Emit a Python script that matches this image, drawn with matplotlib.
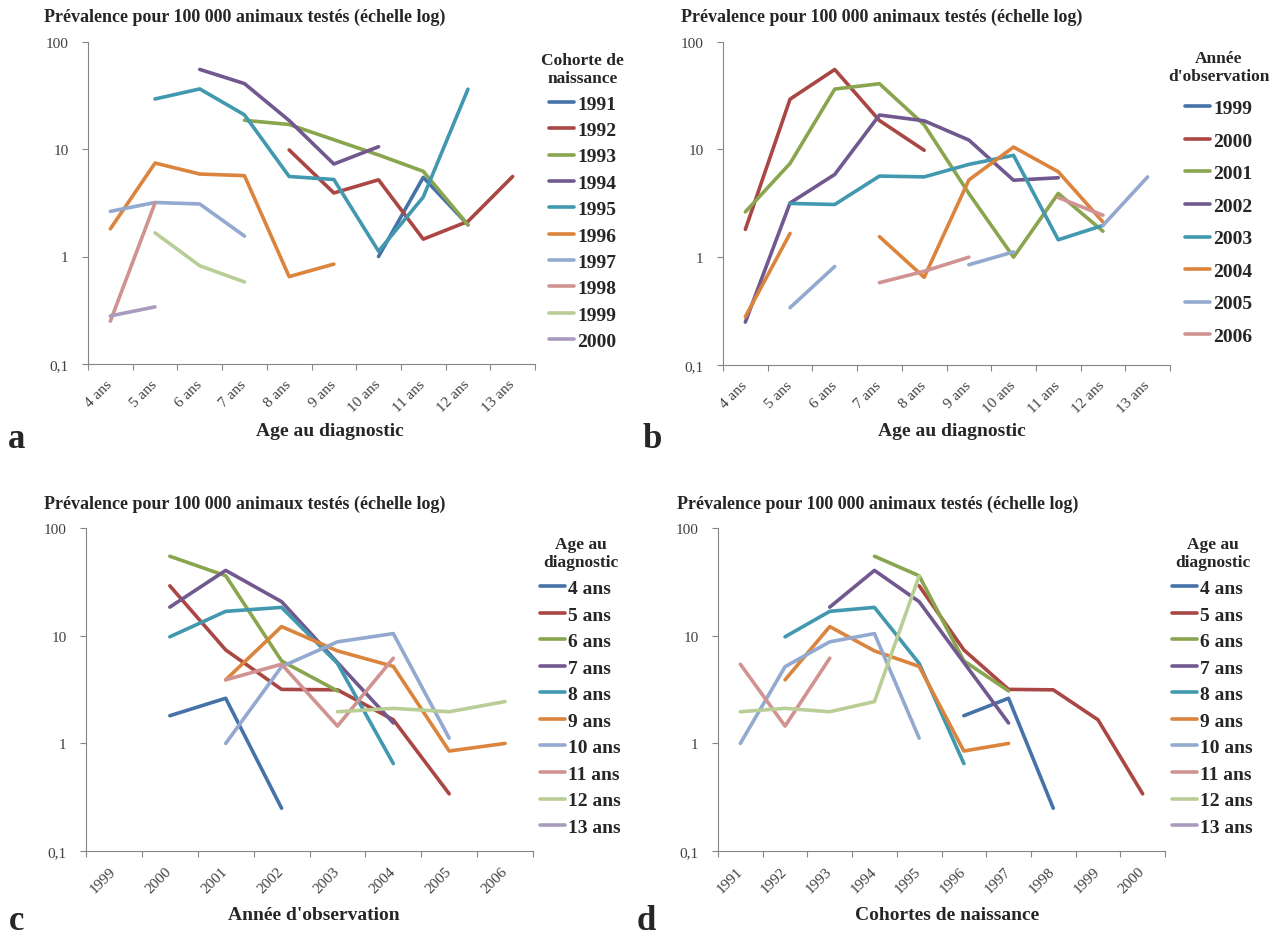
import numpy as np
import pandas as pd
import matplotlib
matplotlib.use("Agg")
import matplotlib.pyplot as plt
from matplotlib.ticker import NullLocator

nan = np.nan

# Prévalence pour 100 000 animaux testés, par cohorte de naissance,
# pour les âges au diagnostic de 4 à 13 ans
ages = [4, 5, 6, 7, 8, 9, 10, 11, 12, 13]
coh_1989 = [nan, nan, nan, nan, nan, nan, nan, nan, 1.74, nan]
coh_1990 = [nan, nan, nan, nan, nan, nan, nan, 3.9, nan, nan]
coh_1991 = [nan, nan, nan, nan, nan, nan, 1.0, 5.45, 1.97, nan]
coh_1992 = [nan, nan, nan, nan, 9.8, 3.9, 5.17, 1.45, 2.12, 5.55]
coh_1993 = [nan, nan, nan, 18.5, 16.9, 12.2, 8.8, 6.2, 1.97, nan]
coh_1994 = [nan, nan, 55.0, 40.6, 18.4, 7.25, 10.5, nan, 2.45, nan]
coh_1995 = [nan, 29.2, 36.2, 20.8, 5.55, 5.2, 1.12, 3.57, 36.0, nan]
coh_1996 = [1.81, 7.4, 5.85, 5.65, 0.65, 0.85, nan, nan, nan, nan]
coh_1997 = [2.63, 3.18, 3.08, 1.55, nan, 1.0, nan, nan, nan, nan]
coh_1998 = [0.25, 3.15, nan, nan, 0.74, nan, nan, nan, nan, nan]
coh_1999 = [nan, 1.66, 0.82, 0.58, nan, nan, nan, nan, nan, nan]
coh_2000 = [0.28, 0.34, nan, nan, nan, nan, nan, nan, nan, nan]

cohortes = list(range(1991, 2001))
annees = list(range(1999, 2007))

table = pd.DataFrame(
    [coh_1989, coh_1990, coh_1991, coh_1992, coh_1993, coh_1994,
     coh_1995, coh_1996, coh_1997, coh_1998, coh_1999, coh_2000],
    index=range(1989, 2001), columns=ages)


def prev(cohorte, age):
    if cohorte in table.index:
        return table.at[cohorte, age]
    return nan


couleurs = ['#4572A7', '#AA4643', '#89A54E', '#71588F', '#4198AF',
            '#DB843D', '#93A9CF', '#D19392', '#B9CD96', '#A99BBD']

SERIF = 'Liberation Serif'
TXT = '#262626'
AXE = '#868686'
W, H = 1269, 937

fig = plt.figure(figsize=(W / 100, H / 100), dpi=100)


def fx(px):
    return px / W


def fy(py):
    return 1 - py / H


def panneau(box, xlabels, noms, series, titre_leg, leg_pos, leg_esp, xlabel, xlab_pos,
            lettre, lettre_pos, titre_pos):
    left, top, right, bottom = box
    ax = fig.add_axes([fx(left), fy(bottom), fx(right) - fx(left), fy(top) - fy(bottom)])
    x = np.arange(len(xlabels))
    for nom, vals, c in zip(noms, series, couleurs):
        ax.plot(x, vals, color=c, lw=2.6, label=nom,
                solid_capstyle='round', solid_joinstyle='round')

    ax.set_yscale('log')
    ax.set_ylim(0.1, 100)
    ax.set_xlim(-0.5, len(xlabels) - 0.5)
    ax.set_yticks([0.1, 1, 10, 100])
    ax.set_yticklabels(['0,1', '1', '10', '100'], family=SERIF, fontsize=11, color='#404040')
    ax.yaxis.set_minor_locator(NullLocator())
    ax.set_xticks(np.arange(len(xlabels) + 1) - 0.5)
    ax.set_xticklabels([])
    ax.set_xticks(x, minor=True)
    ax.set_xticklabels(xlabels, minor=True, rotation=45, ha='right', va='center',
                       rotation_mode='anchor', family=SERIF, fontsize=11, color='#404040')
    ax.tick_params(axis='x', which='minor', length=0, pad=13)
    ax.tick_params(axis='x', which='major', length=4, color=AXE, width=0.8)
    ax.tick_params(axis='y', which='major', length=4, color=AXE, width=0.8, pad=10)
    for s in ['top', 'right']:
        ax.spines[s].set_visible(False)
    for s in ['left', 'bottom']:
        ax.spines[s].set_color(AXE)
        ax.spines[s].set_linewidth(0.8)

    leg = ax.legend(title=titre_leg, loc='upper left',
                    bbox_to_anchor=(fx(leg_pos[0]), fy(leg_pos[1])),
                    bbox_transform=fig.transFigure, frameon=False,
                    prop=dict(family=SERIF, weight='bold', size=14),
                    title_fontproperties=dict(family=SERIF, weight='bold', size=12.5),
                    handlelength=1.3, handletextpad=0.15, labelspacing=leg_esp,
                    borderpad=0, borderaxespad=0)
    leg.get_title().set_multialignment('center')
    leg.get_title().set_color(TXT)
    for t in leg.get_texts():
        t.set_color(TXT)

    fig.text(fx(titre_pos[0]), fy(titre_pos[1]),
             'Prévalence pour 100 000 animaux testés (échelle log)',
             family=SERIF, weight='bold', fontsize=13, color=TXT, ha='left', va='center')
    fig.text(fx(xlab_pos[0]), fy(xlab_pos[1]), xlabel, family=SERIF, weight='bold',
             fontsize=14, color=TXT, ha='center', va='center')
    fig.text(fx(lettre_pos[0]), fy(lettre_pos[1]), lettre, family=SERIF, weight='bold',
             fontsize=25, color=TXT, ha='center', va='baseline')
    return ax


# a : cohortes de naissance en fonction de l'âge
panneau((88, 42.5, 535, 365), [f'{a} ans' for a in ages],
        [str(c) for c in cohortes],
        [[prev(c, a) for a in ages] for c in cohortes],
        'Cohorte de\nnaissance', (541, 53), 0.45,
        'Age au diagnostic', (330, 431), 'a', (17, 448), (44, 17))

# b : années d'observation en fonction de l'âge
panneau((723, 42.5, 1170, 366), [f'{a} ans' for a in ages],
        [str(y) for y in annees],
        [[prev(y - a, a) for a in ages] for y in annees],
        'Année\nd\'observation', (1168, 51), 0.77,
        'Age au diagnostic', (952, 431), 'b', (652, 448), (681, 17))

# c : âges au diagnostic en fonction de l'année d'observation
panneau((86, 529.3, 533, 852), [str(y) for y in annees],
        [f'{a} ans' for a in ages],
        [[prev(y - a, a) for y in annees] for a in ages],
        'Age au\ndiagnostic', (540, 537), 0.46,
        'Année d\'observation', (314, 916), 'c', (17, 930), (44, 504))

# d : âges au diagnostic en fonction de la cohorte de naissance
panneau((718, 529.3, 1165, 852), [str(c) for c in cohortes],
        [f'{a} ans' for a in ages],
        [[prev(c, a) for c in cohortes] for a in ages],
        'Age au\ndiagnostic', (1172, 537), 0.46,
        'Cohortes de naissance', (947, 916), 'd', (646, 930), (677, 504))

fig.savefig('out.png', dpi=100)
